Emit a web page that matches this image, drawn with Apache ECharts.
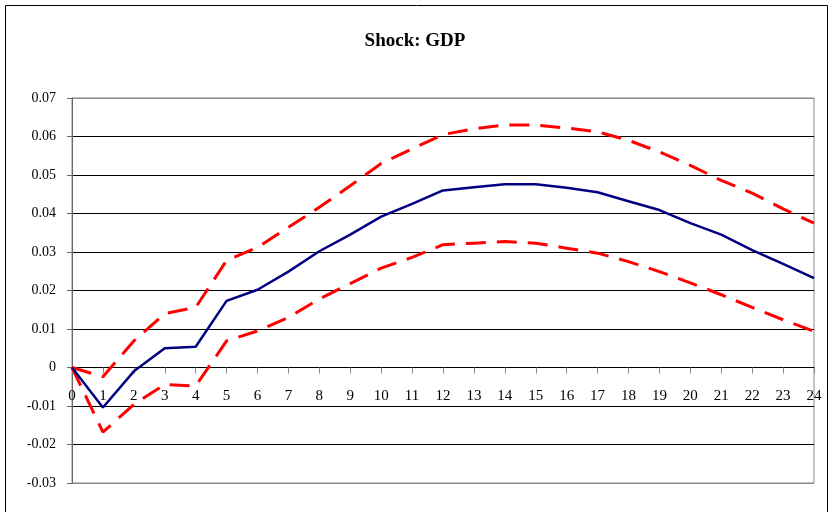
<!DOCTYPE html>
<html>
<head>
<meta charset="utf-8">
<script src="https://cdn.jsdelivr.net/npm/echarts@6/dist/echarts.min.js"></script>
<style>
html,body{margin:0;padding:0;background:#fff;}
#chart{width:830px;height:512px;}
</style>
</head>
<body>
<div id="chart"></div>
<script>
var categories = ['0','1','2','3','4','5','6','7','8','9','10','11','12','13','14','15','16','17','18','19','20','21','22','23','24'];
var gdpResponse = [0, -0.0104, -0.001, 0.0050, 0.0054, 0.0173, 0.0202, 0.0249, 0.0302, 0.0345, 0.0392, 0.0425, 0.0460, 0.0468, 0.0476, 0.0476, 0.0467, 0.0455, 0.0432, 0.0409, 0.0375, 0.0345, 0.0305, 0.0269, 0.0232];
var upperBand = [0, -0.0024, 0.0069, 0.0140, 0.0156, 0.0278, 0.0312, 0.0364, 0.0416, 0.0472, 0.0530, 0.0568, 0.0605, 0.0620, 0.0630, 0.0630, 0.0622, 0.0612, 0.0590, 0.0560, 0.0525, 0.0486, 0.0453, 0.0412, 0.0375];
var lowerBand = [0, -0.0168, -0.0096, -0.0044, -0.0048, 0.0069, 0.0095, 0.0130, 0.0178, 0.0218, 0.0258, 0.0286, 0.0319, 0.0323, 0.0327, 0.0323, 0.0310, 0.0297, 0.0275, 0.0249, 0.0220, 0.0189, 0.0156, 0.0124, 0.0094];
var titleText = 'Shock: GDP';

var chart = echarts.init(document.getElementById('chart'), null, {renderer: 'canvas'});
var serif = '"Liberation Serif", "DejaVu Serif", serif';
var splitColors = ['#888888','#000000','#000000','#000000','#000000','#000000','#000000','#000000','#000000','#000000','#888888'];
var gridTop = 98, gridBottom = 29, plotH = 512 - gridTop - gridBottom;
var yMin = -0.03, yMax = 0.07;
var zeroOffset = -plotH * (0 - yMin) / (yMax - yMin);
chart.setOption({
  animation: false,
  backgroundColor: '#ffffff',
  title: {
    text: titleText,
    left: 'center',
    top: 27,
    textStyle: {fontFamily: serif, fontWeight: 'bold', fontSize: 19, color: '#000'}
  },
  graphic: [{
    type: 'rect',
    shape: {x: 5.5, y: 5.5, width: 822, height: 520},
    style: {fill: null, stroke: '#000', lineWidth: 1},
    silent: true
  }],
  grid: {left: 72, right: 16, top: gridTop, bottom: gridBottom, show: true, borderColor: '#888888', borderWidth: 1, backgroundColor: 'transparent'},
  xAxis: {
    type: 'category',
    data: categories,
    boundaryGap: false,
    position: 'bottom',
    offset: zeroOffset,
    axisLine: {onZero: false, lineStyle: {color: '#000', width: 1}},
    axisTick: {show: true, length: 6, inside: false, lineStyle: {color: '#888'}},
    axisLabel: {fontFamily: serif, fontSize: 15, color: '#000', margin: 21, interval: 0},
    splitLine: {show: false}
  },
  yAxis: {
    type: 'value',
    min: yMin,
    max: yMax,
    interval: 0.01,
    axisLine: {show: true, lineStyle: {color: '#666', width: 1}},
    axisTick: {show: true, length: 5, lineStyle: {color: '#666'}},
    axisLabel: {
      fontFamily: serif, fontSize: 14, color: '#000', margin: 16,
      formatter: function (v) { var r = Math.round(v * 100) / 100; return r === 0 ? '0' : r.toFixed(2); }
    },
    splitLine: {show: true, lineStyle: {color: splitColors, width: 1}}
  },
  series: [
    {
      name: 'Upper', type: 'line', data: upperBand, symbol: 'none', z: 3,
      lineStyle: {color: '#ff0000', width: 3, type: [20, 11]}
    },
    {
      name: 'Lower', type: 'line', data: lowerBand, symbol: 'none', z: 3,
      lineStyle: {color: '#ff0000', width: 3, type: [20, 11]}
    },
    {
      name: 'GDP', type: 'line', data: gdpResponse, symbol: 'none', z: 4,
      lineStyle: {color: '#000080', width: 2.5}
    }
  ]
});
</script>
</body>
</html>
